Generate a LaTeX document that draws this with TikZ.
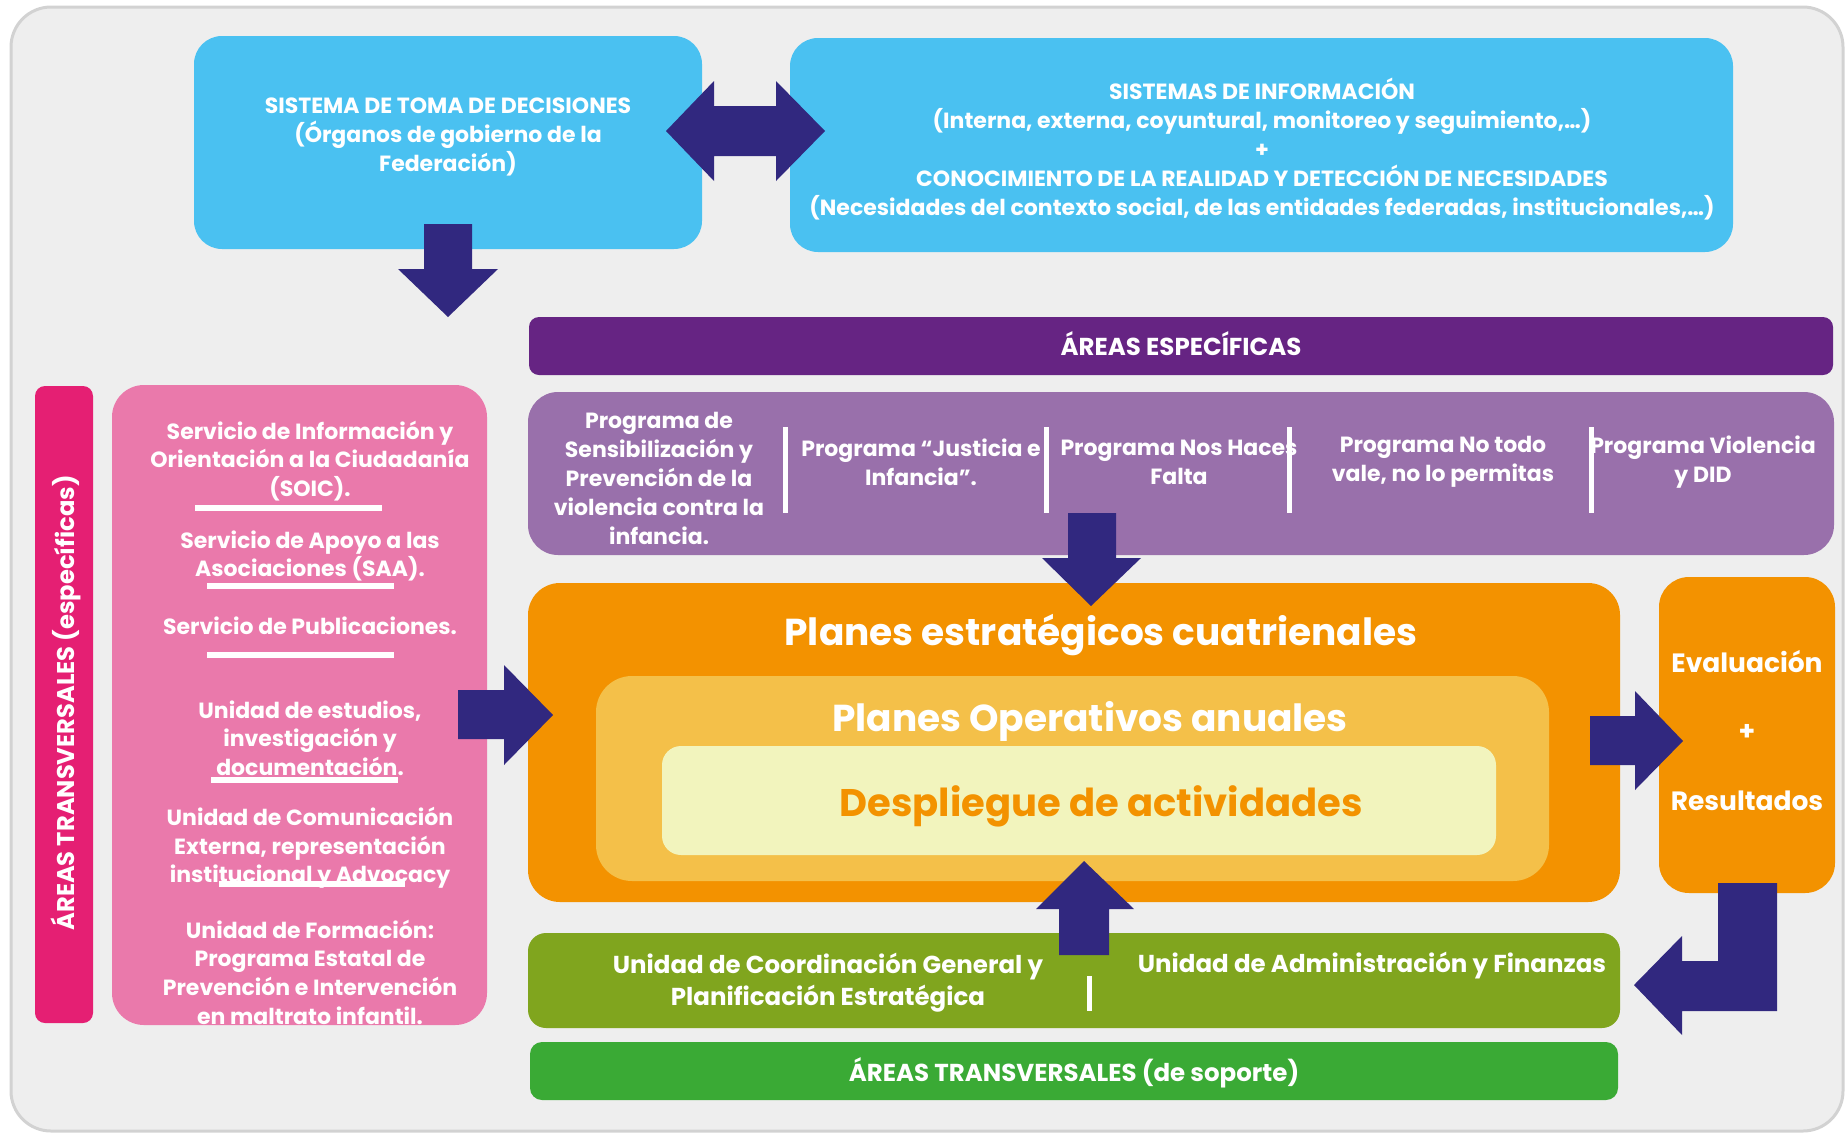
\documentclass[tikz,border=0pt]{standalone}
\usepackage{fontspec}
\setmainfont{Poppins}
\definecolor{bgc}{HTML}{EEEEEE}
\definecolor{bdc}{HTML}{D2D2D2}
\definecolor{skyb}{HTML}{4AC1F1}
\definecolor{navy}{HTML}{31287F}
\definecolor{dpurp}{HTML}{662483}
\definecolor{lpurp}{HTML}{9970AB}
\definecolor{orng}{HTML}{F39200}
\definecolor{lorng}{HTML}{F4C049}
\definecolor{pale}{HTML}{F2F4BD}
\definecolor{olive}{HTML}{80A51E}
\definecolor{grn}{HTML}{3AAA35}
\definecolor{pnk}{HTML}{EA79AB}
\definecolor{mgnt}{HTML}{E51F73}
\begin{document}
\begin{tikzpicture}[x=1pt,y=-1pt,
  blk/.style={rectangle, inner sep=0pt, outer sep=0pt, draw=none},
  wt/.style={text=white, font=\bfseries\fontsize{22}{29}\selectfont, align=center, inner sep=0pt},
  pk/.style={text=white, font=\bfseries\fontsize{22}{28.7}\selectfont, align=center, inner sep=0pt},
  gt/.style={text=white, font=\bfseries\fontsize{24.5}{32}\selectfont, align=center, inner sep=0pt},
  big/.style={text=white, font=\bfseries\fontsize{37.5}{40}\selectfont, inner sep=0pt, anchor=base},
  ev/.style={text=white, font=\bfseries\fontsize{26.5}{30}\selectfont, inner sep=0pt},
  sep/.style={white, line width=5pt},
  uline/.style={white, line width=6pt},
  barrow/.style={fill=navy, draw=none}]
\useasboundingbox (0,0) rectangle (1845,1133);
% background
\draw[fill=bgc, draw=bdc, line width=3pt, rounded corners=40pt] (11,7) rectangle (1843,1131);
% boxes
\node[blk, fill=skyb, rounded corners=28pt, minimum width=508pt, minimum height=213pt] (dec) at (448,142.5) {};
\node[blk, fill=skyb, rounded corners=28pt, minimum width=943pt, minimum height=214pt] (info) at (1261.5,145) {};
\node[blk, fill=dpurp, rounded corners=10pt, minimum width=1304pt, minimum height=58pt] (aesp) at (1181,346) {};
\node[blk, fill=lpurp, rounded corners=30pt, minimum width=1306pt, minimum height=163pt] (prog) at (1181,473.5) {};
\node[blk, fill=mgnt, rounded corners=10pt, minimum width=58pt, minimum height=637pt] (mag) at (64,704.5) {};
\node[blk, fill=pnk, rounded corners=32pt, minimum width=375pt, minimum height=640pt] (pink) at (299.5,705) {};
\node[blk, fill=orng, rounded corners=32pt, minimum width=1092pt, minimum height=319pt] (pec) at (1074,742.5) {};
\node[blk, fill=lorng, rounded corners=36pt, minimum width=953pt, minimum height=205pt] (poa) at (1072.5,778.5) {};
\node[blk, fill=pale, rounded corners=19pt, minimum width=834pt, minimum height=109pt] (desp) at (1079,800.5) {};
\node[blk, fill=orng, rounded corners=30pt, minimum width=176pt, minimum height=316pt] (eval) at (1747,735) {};
\node[blk, fill=olive, rounded corners=18pt, minimum width=1092pt, minimum height=95pt] (unit) at (1074,980.5) {};
\node[blk, fill=grn, rounded corners=12pt, minimum width=1088pt, minimum height=58pt] (sop) at (1074,1071) {};
% separators
\draw[sep] (785,427) -- (785,513);
\draw[sep] (1046,427) -- (1046,513);
\draw[sep] (1289,427) -- (1289,513);
\draw[sep] (1591,427) -- (1591,513);
\draw[sep] (1089,976) -- (1089,1011);
% pink underlines
\draw[uline] (195,508) -- (382,508);
\draw[uline] (207,586) -- (394,586);
\draw[uline] (207,655) -- (394,655);
\draw[uline] (211,780) -- (398,780);
\draw[uline] (219,884) -- (405,884);
% block arrows
\fill[barrow] (424,224) -- (472,224) -- (472,269) -- (498,269) -- (448,317) -- (398,269) -- (424,269) -- cycle;
\fill[barrow] (666,131) -- (714,81) -- (714,106) -- (776,106) -- (776,81) -- (825,131) -- (776,181) -- (776,156) -- (714,156) -- (714,181) -- cycle;
\fill[barrow] (1068,513) -- (1116,513) -- (1116,558) -- (1141,558) -- (1091,606) -- (1042,558) -- (1068,558) -- cycle;
\fill[barrow] (458,690) -- (504,690) -- (504,665) -- (553,715) -- (504,765) -- (504,739) -- (458,739) -- cycle;
\fill[barrow] (1590,716) -- (1635,716) -- (1635,691) -- (1683,741) -- (1635,790) -- (1635,765) -- (1590,765) -- cycle;
\fill[barrow] (1059,955) -- (1059,909) -- (1036,909) -- (1084,861) -- (1134,909) -- (1109,909) -- (1109,955) -- cycle;
\fill[barrow] (1718,883) -- (1777,883) -- (1777,1011) -- (1682,1011) -- (1682,1035) -- (1634,985) -- (1682,936) -- (1682,961) -- (1718,961) -- cycle;
% texts
\node[wt] (tdec) at (448,137) {SISTEMA DE TOMA DE DECISIONES\\(Órganos de gobierno de la\\Federación)};
\node[wt] (tinfo) at (1262,149) {SISTEMAS DE INFORMACIÓN\\(Interna, externa, coyuntural, monitoreo y seguimiento,…)\\+\\CONOCIMIENTO DE LA REALIDAD Y DETECCIÓN DE NECESIDADES\\(Necesidades del contexto social, de las entidades federadas, institucionales,…)};
\node[gt, anchor=base] (taesp) at (1181,355) {ÁREAS ESPECÍFICAS};
\node[wt] (p1) at (659,478) {Programa de\\Sensibilización y\\Prevención de la\\violencia contra la\\infancia.};
\node[wt] (p2) at (921,462) {Programa “Justicia e\\Infancia”.};
\node[wt] (p3) at (1179,462) {Programa Nos Haces\\Falta};
\node[wt] (p4) at (1443,462) {Programa No todo\\vale, no lo permitas};
\node[wt] (p5) at (1703,462) {Programa Violencia\\y DID};
\node[pk] (s1) at (310,461) {Servicio de Información y\\Orientación a la Ciudadanía\\(SOIC).};
\node[pk] (s2) at (310,556) {Servicio de Apoyo a las\\Asociaciones (SAA).};
\node[pk] (s3) at (310,626) {Servicio de Publicaciones.};
\node[pk] (s4) at (310,738) {Unidad de estudios,\\investigación y\\documentación.};
\node[pk] (s5) at (310,848) {Unidad de Comunicación\\Externa, representación\\institucional y Advocacy};
\node[pk] (s6) at (310,972) {Unidad de Formación:\\Programa Estatal de\\Prevención e Intervención\\en maltrato infantil.};
\node[text=white, font=\bfseries\fontsize{24.2}{28}\selectfont, rotate=90, inner sep=0pt] (tmag) at (66,703) {ÁREAS TRANSVERSALES (específicas)};
\node[big] (tpec) at (1101,645) {Planes estratégicos cuatrienales};
\node[big] (tpoa) at (1090,731) {Planes Operativos anuales};
\node[big, text=orng, font=\bfseries\fontsize{38.5}{40}\selectfont] (tdesp) at (1101,816) {Despliegue de actividades};
\node[ev, anchor=base] (te1) at (1747,672) {Evaluación};
\node[ev] (te2) at (1747,732) {+};
\node[ev, anchor=base] (te3) at (1747,810) {Resultados};
\node[gt] (tu1) at (828,983) {Unidad de Coordinación General y\\Planificación Estratégica};
\node[gt, anchor=base] (tu2) at (1372,972) {Unidad de Administración y Finanzas};
\node[gt, anchor=base] (tsop) at (1074,1081) {ÁREAS TRANSVERSALES (de soporte)};
\end{tikzpicture}
\end{document}
